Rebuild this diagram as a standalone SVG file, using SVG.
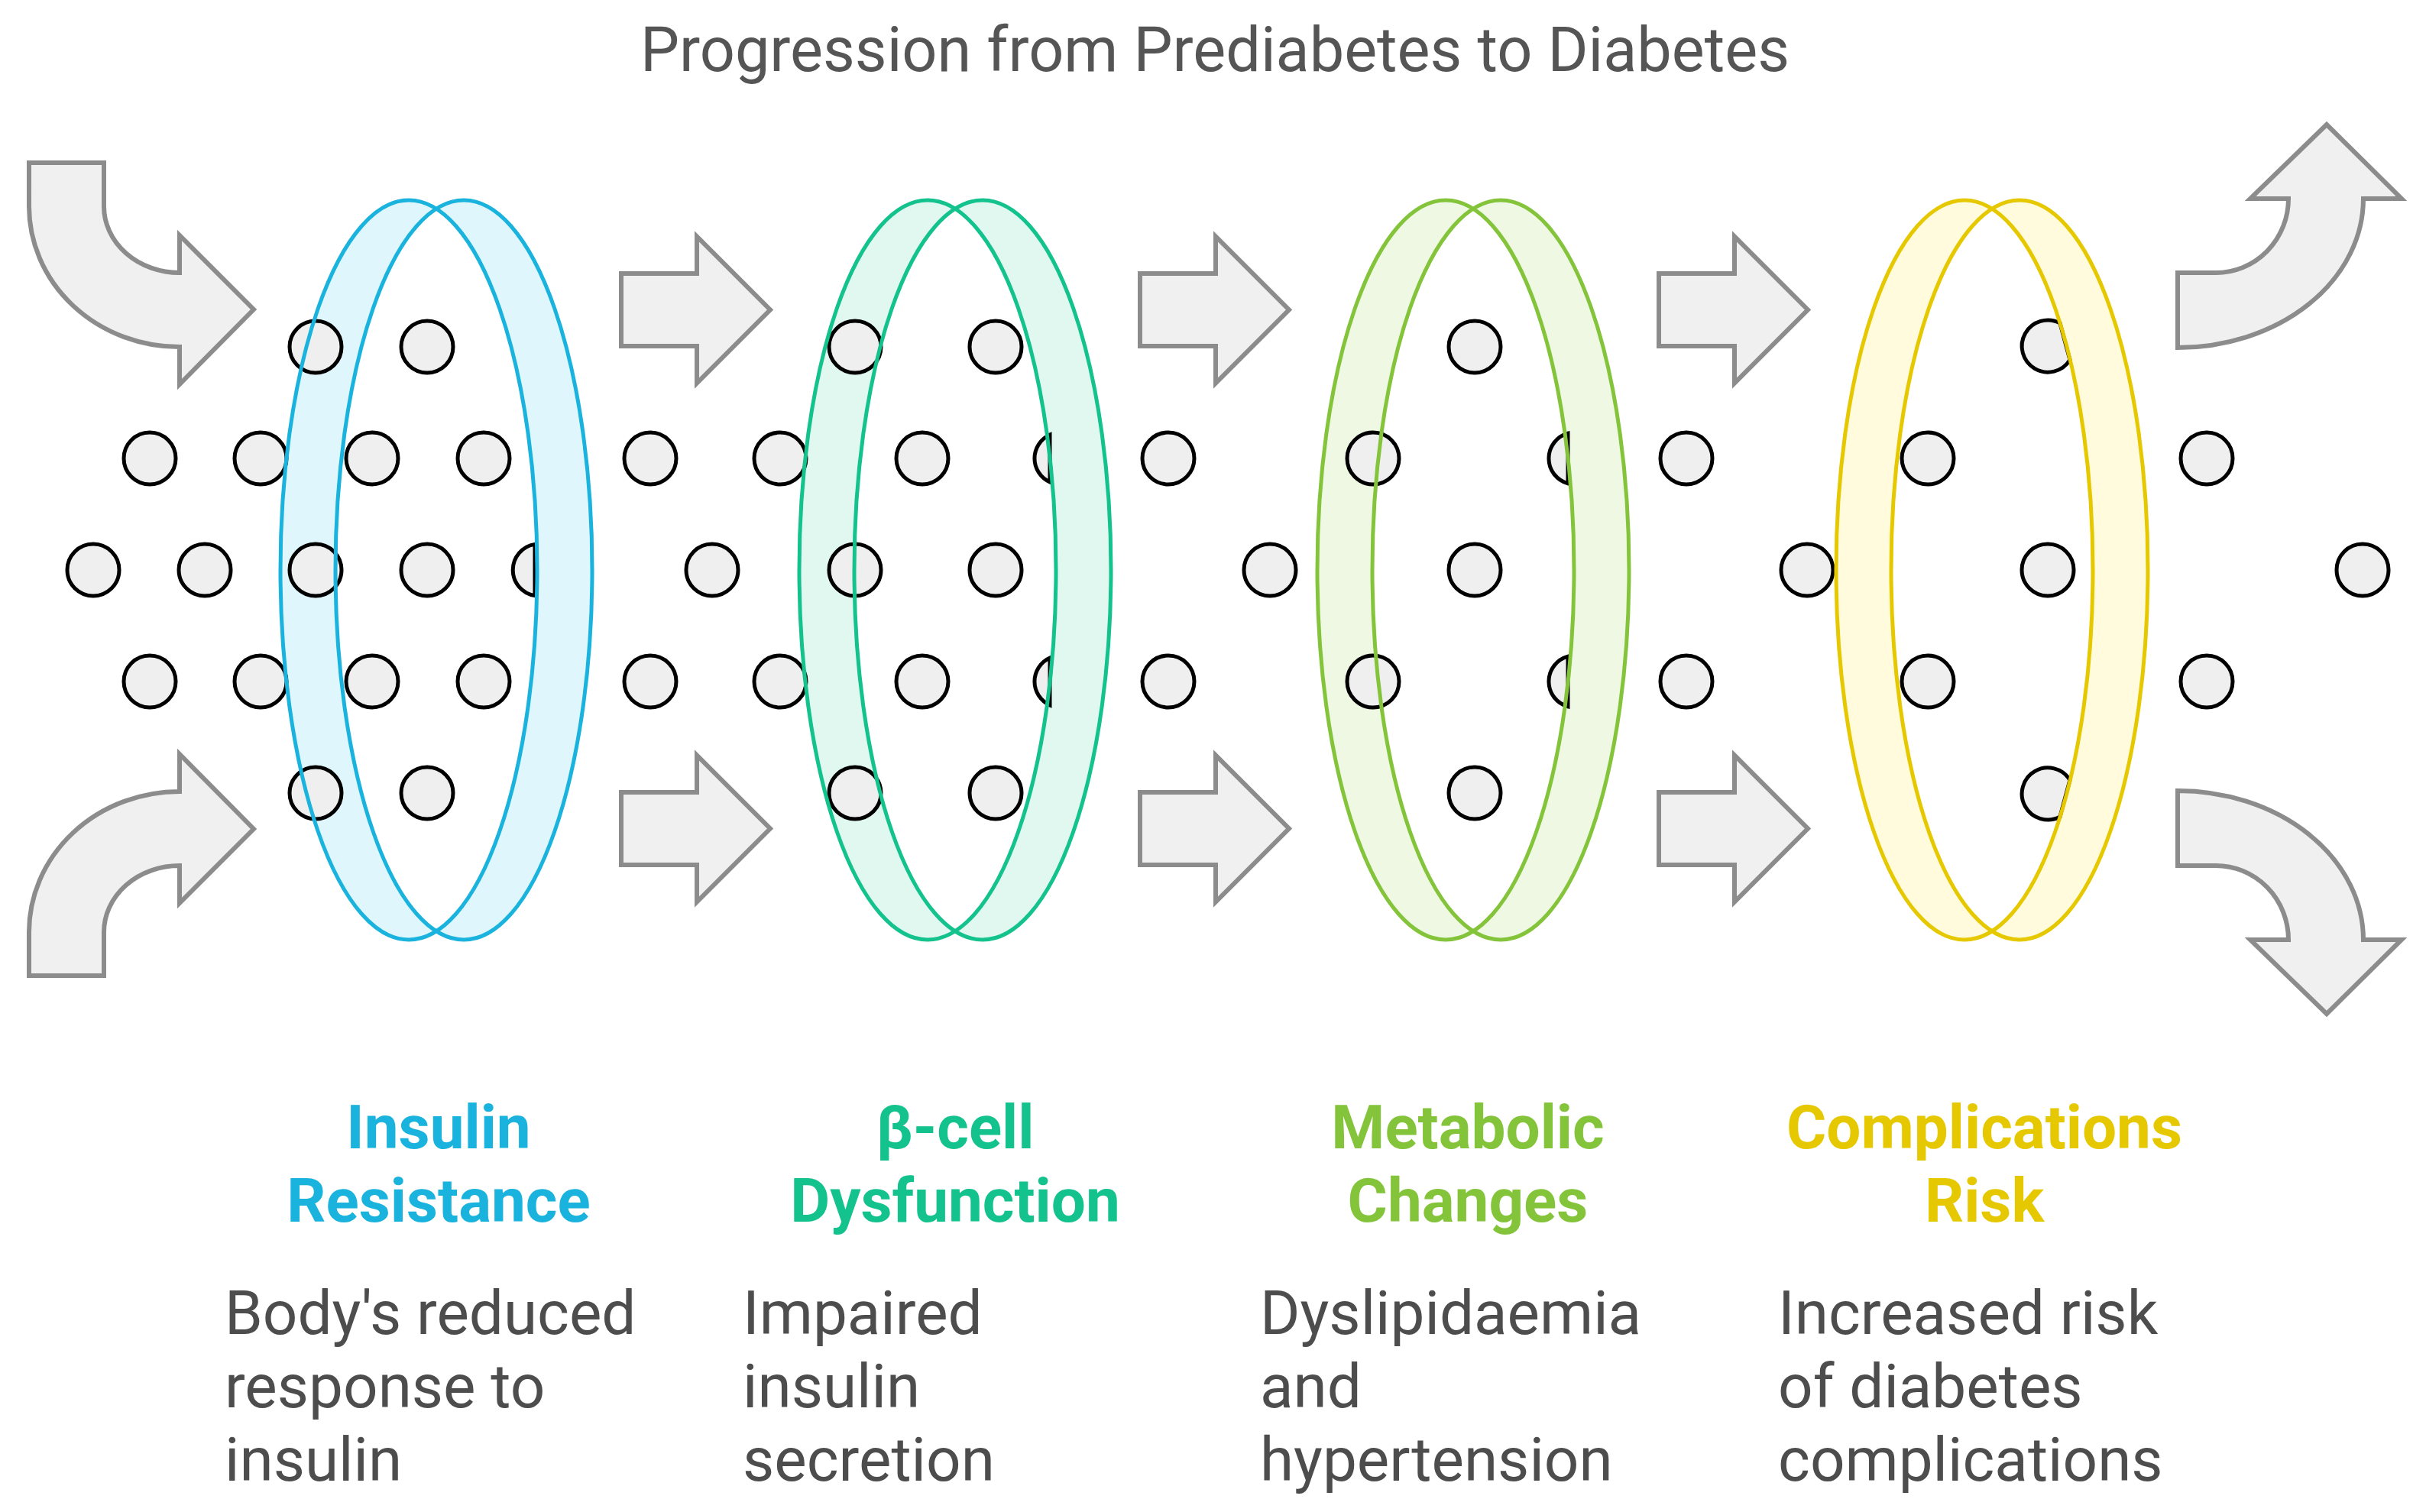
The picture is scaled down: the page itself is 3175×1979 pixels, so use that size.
<svg xmlns="http://www.w3.org/2000/svg" xmlns:xlink="http://www.w3.org/1999/xlink" width="3175" height="1979" viewBox="0 0 3175 1979">
<style>
.dot{fill:#efefef;stroke:#000;stroke-width:5}
.arrow{fill:#f0f0f0;stroke:#8c8c8c;stroke-width:6;stroke-linejoin:miter}
.band{fill-rule:evenodd;stroke:none}
.rim{fill:none;stroke-width:5}
.title{font-family:Roboto,'Liberation Sans',sans-serif;font-size:81px;fill:#555555;text-anchor:middle}
.head{font-family:Roboto,'Liberation Sans',sans-serif;font-size:80px;font-weight:bold;text-anchor:middle}
.desc{font-family:Roboto,'Liberation Sans',sans-serif;font-size:80px;fill:#4d4d4d}
</style>
<defs>
<path id="sa" d="M0,-47.5 H99 V-96 L195,0 L99,96 V47.5 H0 Z"/>
<path id="ring1" d="M367,746 A168,484 0 1 0 703,746 A168,484 0 1 0 367,746 Z M439,746 A168,484 0 1 0 775,746 A168,484 0 1 0 439,746 Z"/>
<path id="ring2" d="M1046,746 A168,484 0 1 0 1382,746 A168,484 0 1 0 1046,746 Z M1118,746 A168,484 0 1 0 1454,746 A168,484 0 1 0 1118,746 Z"/>
<path id="ring3" d="M1724,746 A168,484 0 1 0 2060,746 A168,484 0 1 0 1724,746 Z M1796,746 A168,484 0 1 0 2132,746 A168,484 0 1 0 1796,746 Z"/>
<path id="ring4" d="M2403,746 A168,484 0 1 0 2739,746 A168,484 0 1 0 2403,746 Z M2475,746 A168,484 0 1 0 2811,746 A168,484 0 1 0 2475,746 Z"/>
</defs>
<rect width="3175" height="1979" fill="#ffffff"/>
<text class="title" x="1590" y="93">Progression from Prediabetes to Diabetes</text>

<g id="stage-insulin-resistance">
<use class="band" href="#ring1" xlink:href="#ring1" fill="#dff6fc"/>
<text class="head" fill="#19b3de" x="574" y="1503">Insulin</text>
<text class="head" fill="#19b3de" x="574" y="1599">Resistance</text>
<text class="desc" x="294" y="1746">Body's reduced</text>
<text class="desc" x="294" y="1842">response to</text>
<text class="desc" x="294" y="1938">insulin</text>
</g>

<g id="stage-beta-cell-dysfunction">
<use class="band" href="#ring2" xlink:href="#ring2" fill="#e0f8f0"/>
<text class="head" fill="#13c28c" x="1250" y="1503">β-cell</text>
<text class="head" fill="#13c28c" x="1250" y="1599">Dysfunction</text>
<text class="desc" x="972" y="1746">Impaired</text>
<text class="desc" x="972" y="1842">insulin</text>
<text class="desc" x="972" y="1938">secretion</text>
</g>

<g id="stage-metabolic-changes">
<use class="band" href="#ring3" xlink:href="#ring3" fill="#eef8e3"/>
<text class="head" fill="#84c43b" x="1921" y="1503">Metabolic</text>
<text class="head" fill="#84c43b" x="1921" y="1599">Changes</text>
<text class="desc" x="1649" y="1746">Dyslipidaemia</text>
<text class="desc" x="1649" y="1842">and</text>
<text class="desc" x="1649" y="1938">hypertension</text>
</g>

<g id="stage-complications-risk">
<use class="band" href="#ring4" xlink:href="#ring4" fill="#fffbdc"/>
<text class="head" fill="#e6c800" x="2597" y="1503">Complications</text>
<text class="head" fill="#e6c800" x="2597" y="1599">Risk</text>
<text class="desc" x="2327" y="1746">Increased risk</text>
<text class="desc" x="2327" y="1842">of diabetes</text>
<text class="desc" x="2327" y="1938">complications</text>
</g>

<g id="connectors">
<path class="arrow" d="M38,213 H136 V270 A99,87 0 0 0 235,357 V308 L332,405 L235,503 V454 A197,184 0 0 1 38,270 Z"/>
<path class="arrow" d="M38,1277 H136 V1220 A99,87 0 0 1 235,1133 V1182 L332,1085 L235,987 V1036 A197,184 0 0 0 38,1220 Z"/>
<use class="arrow" xlink:href="#sa" href="#sa" x="813" y="405.5"/>
<use class="arrow" xlink:href="#sa" href="#sa" x="813" y="1084.5"/>
<use class="arrow" xlink:href="#sa" href="#sa" x="1492" y="405.5"/>
<use class="arrow" xlink:href="#sa" href="#sa" x="1492" y="1084.5"/>
<use class="arrow" xlink:href="#sa" href="#sa" x="2171" y="405.5"/>
<use class="arrow" xlink:href="#sa" href="#sa" x="2171" y="1084.5"/>
<path class="arrow" d="M2850,357 H2900 A95,97 0 0 0 2995,260 H2945 L3045,163 L3143,260 H3093 A243,195 0 0 1 2850,455 Z"/>
<path class="arrow" d="M2850,1133 H2900 A95,97 0 0 1 2995,1230 H2945 L3045,1327 L3143,1230 H3093 A243,195 0 0 0 2850,1035 Z"/>
</g>

<g id="particles">
<circle class="dot" cx="413" cy="454" r="34"/>
<circle class="dot" cx="559" cy="454" r="34"/>
<circle class="dot" cx="196" cy="600" r="34"/>
<circle class="dot" cx="341" cy="600" r="34"/>
<circle class="dot" cx="487" cy="600" r="34"/>
<circle class="dot" cx="633" cy="600" r="34"/>
<circle class="dot" cx="122" cy="746" r="34"/>
<circle class="dot" cx="268" cy="746" r="34"/>
<circle class="dot" cx="413" cy="746" r="34"/>
<circle class="dot" cx="559" cy="746" r="34"/>
<path class="dot" d="M700,712.4 A34,34 0 0 0 700,779.6 Z"/>
<circle class="dot" cx="196" cy="892" r="34"/>
<circle class="dot" cx="341" cy="892" r="34"/>
<circle class="dot" cx="487" cy="892" r="34"/>
<circle class="dot" cx="633" cy="892" r="34"/>
<circle class="dot" cx="413" cy="1038" r="34"/>
<circle class="dot" cx="559" cy="1038" r="34"/>

<circle class="dot" cx="851" cy="600" r="34"/>
<circle class="dot" cx="1021" cy="600" r="34"/>
<circle class="dot" cx="932" cy="746" r="34"/>
<circle class="dot" cx="851" cy="892" r="34"/>
<circle class="dot" cx="1021" cy="892" r="34"/>

<circle class="dot" cx="1119" cy="454" r="34"/>
<circle class="dot" cx="1303" cy="454" r="34"/>
<circle class="dot" cx="1207" cy="600" r="34"/>
<path class="dot" d="M1374,569 A34,34 0 0 0 1374,631 Z"/>
<circle class="dot" cx="1119" cy="746" r="34"/>
<circle class="dot" cx="1303" cy="746" r="34"/>
<circle class="dot" cx="1207" cy="892" r="34"/>
<path class="dot" d="M1374,861 A34,34 0 0 0 1374,923 Z"/>
<circle class="dot" cx="1119" cy="1038" r="34"/>
<circle class="dot" cx="1303" cy="1038" r="34"/>

<circle class="dot" cx="1529" cy="600" r="34"/>
<circle class="dot" cx="1662" cy="746" r="34"/>
<circle class="dot" cx="1529" cy="892" r="34"/>

<circle class="dot" cx="1930" cy="454" r="34"/>
<circle class="dot" cx="1797" cy="600" r="34"/>
<path class="dot" d="M2052,567.2 A34,34 0 0 0 2052,632.8 Z"/>
<circle class="dot" cx="1930" cy="746" r="34"/>
<circle class="dot" cx="1797" cy="892" r="34"/>
<path class="dot" d="M2052,859.2 A34,34 0 0 0 2052,924.8 Z"/>
<circle class="dot" cx="1930" cy="1038" r="34"/>

<circle class="dot" cx="2207" cy="600" r="34"/>
<circle class="dot" cx="2365" cy="746" r="34"/>
<circle class="dot" cx="2207" cy="892" r="34"/>

<path class="dot" d="M2696,423 A34,34 0 1 0 2709,471 Z"/>
<circle class="dot" cx="2523" cy="600" r="34"/>
<circle class="dot" cx="2680" cy="746" r="34"/>
<circle class="dot" cx="2523" cy="892" r="34"/>
<path class="dot" d="M2709,1021 A34,34 0 1 0 2696,1069 Z"/>

<circle class="dot" cx="2888" cy="600" r="34"/>
<circle class="dot" cx="3092" cy="746" r="34"/>
<circle class="dot" cx="2888" cy="892" r="34"/>
</g>

<g id="ring-outlines">
<use class="rim" href="#ring1" xlink:href="#ring1" stroke="#19b3de"/>
<use class="rim" href="#ring2" xlink:href="#ring2" stroke="#13c28c"/>
<use class="rim" href="#ring3" xlink:href="#ring3" stroke="#84c43b"/>
<use class="rim" href="#ring4" xlink:href="#ring4" stroke="#e6c800"/>
</g>
</svg>
